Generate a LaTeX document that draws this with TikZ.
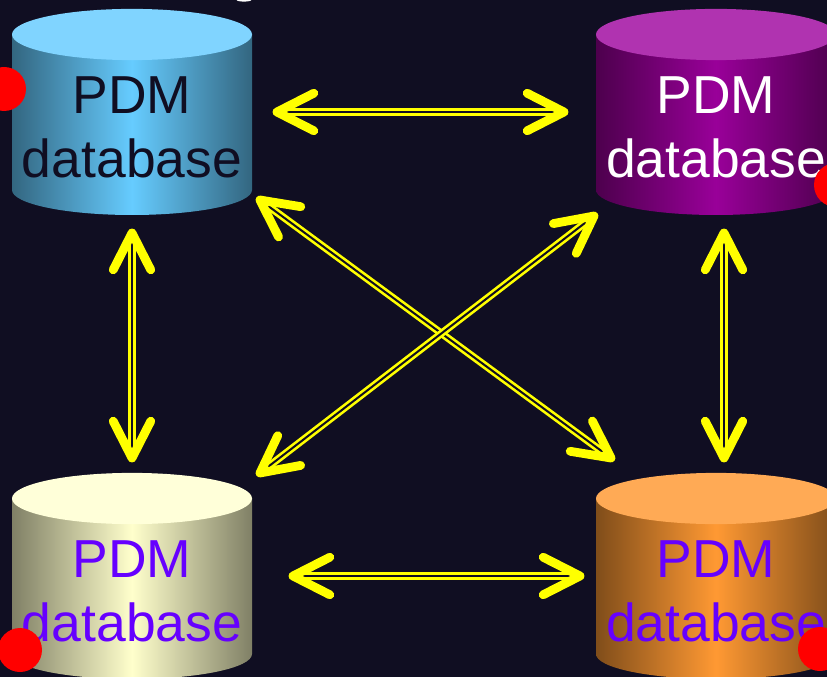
\documentclass[tikz,border=0pt]{standalone}
\usepackage{fontspec}
\setmainfont{Liberation Sans}
\usetikzlibrary{calc}
\definecolor{bg}{HTML}{100E22}
\definecolor{arrowyellow}{RGB}{255,255,0}
\definecolor{bluetop}{HTML}{80D4FF}\definecolor{bluemid}{HTML}{66CCFF}\definecolor{blueedge}{HTML}{336680}
\definecolor{purptop}{HTML}{B033B0}\definecolor{purpmid}{HTML}{990099}\definecolor{purpedge}{HTML}{4D004D}
\definecolor{creamtop}{HTML}{FFFFD9}\definecolor{creammid}{HTML}{FFFFCC}\definecolor{creamedge}{HTML}{808066}
\definecolor{orgtop}{HTML}{FFAA55}\definecolor{orgmid}{HTML}{FF9933}\definecolor{orgedge}{HTML}{804D1A}
\definecolor{violet}{HTML}{6600FF}
\tikzset{
 x=0.75pt,y=-0.75pt,
 dbtext/.style={align=center,inner sep=0pt,font=\fontsize{40.1}{48}\selectfont},
 shaft/.style={draw=arrowyellow,line width=2pt,double=bg,double distance=1.5pt,shorten <=4.5pt,shorten >=4.5pt},
 barb/.style={draw=arrowyellow,line width=6.6pt,line cap=round,line join=round},
 reddot/.style={fill=red,draw=none},
}
% centre x, top y, edge, mid, top colours, text colour, name
\newcommand{\dbcyl}[7]{%
 \shade[left color=#3,right color=#3,middle color=#4]
   (#1-120,#2+25) -- (#1-120,#2+181) arc[start angle=180,end angle=360,x radius=120,y radius=-25]
   -- (#1+120,#2+25) -- cycle;
 \fill[#5] (#1,#2+25.5) ellipse[x radius=90pt,y radius=19.2pt];
 \node[dbtext,text=#6] (#7) at (#1,#2+118) {PDM\\database};
}
\newcommand{\linkdb}[2]{%
 \draw[shaft] (#1) -- (#2);
 \draw[barb] ($(#1)!31pt!27:(#2)$) -- (#1) -- ($(#1)!31pt!-27:(#2)$);
 \draw[barb] ($(#2)!31pt!27:(#1)$) -- (#2) -- ($(#2)!31pt!-27:(#1)$);
}
\begin{document}
\begin{tikzpicture}
\useasboundingbox (0,0) rectangle (827,677);
\clip (0,0) rectangle (827,677);
\fill[bg] (0,0) rectangle (827,677);
\fill[white] (244,0) ellipse[x radius=5.5pt,y radius=1.2pt];
\dbcyl{132}{9}{blueedge}{bluemid}{bluetop}{bg}{dbA}
\dbcyl{716}{9}{purpedge}{purpmid}{purptop}{white}{dbB}
\dbcyl{132}{473}{creamedge}{creammid}{creamtop}{violet}{dbC}
\dbcyl{716}{473}{orgedge}{orgmid}{orgtop}{violet}{dbD}
\coordinate (ab1) at (277,112); \coordinate (ab2) at (564,112);
\coordinate (cd1) at (293,576); \coordinate (cd2) at (580,576);
\coordinate (ac1) at (132,233); \coordinate (ac2) at (132,458);
\coordinate (bd1) at (724,233); \coordinate (bd2) at (724,458);
\coordinate (ad1) at (260,200); \coordinate (ad2) at (611,458);
\coordinate (bc1) at (594,216); \coordinate (bc2) at (260,473);
\linkdb{ab1}{ab2}
\linkdb{cd1}{cd2}
\linkdb{ac1}{ac2}
\linkdb{bd1}{bd2}
\linkdb{ad1}{ad2}
\linkdb{bc1}{bc2}
\fill[reddot] (4,89) circle[radius=16.5pt];
\fill[reddot] (836,185) circle[radius=16.5pt];
\fill[reddot] (20,650) circle[radius=16.5pt];
\fill[reddot] (820,649) circle[radius=16.5pt];
\end{tikzpicture}
\end{document}
